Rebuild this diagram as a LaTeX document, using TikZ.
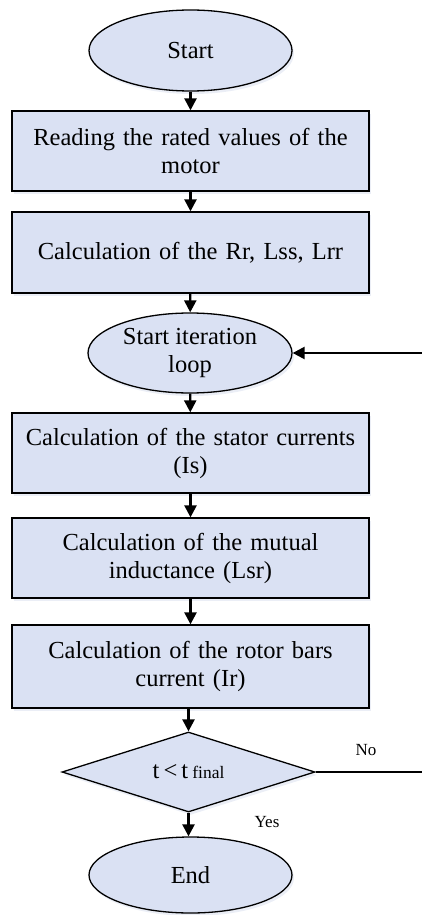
\documentclass[tikz,border=0pt]{standalone}
\usepackage{fontspec}
\setmainfont{Liberation Serif}
\usetikzlibrary{shapes.geometric,arrows.meta,shadows}

\definecolor{boxfill}{HTML}{DAE1F3}
\definecolor{shadowblue}{HTML}{8FA3CF}

\tikzset{
  base/.style={draw=black, line width=1.3pt, fill=boxfill, inner sep=0pt,
    font=\fontsize{24.5}{28}\selectfont, align=center,
    drop shadow={shadow xshift=2pt, shadow yshift=-3pt, opacity=0.18, fill=shadowblue}},
  procbox/.style={base, rectangle, minimum width=357pt, text width=345pt},
  terminal/.style={base, ellipse},
  decision/.style={base, diamond, aspect=3.16, minimum width=253pt, minimum height=80pt},
  flow/.style={line width=2.4pt, -{Triangle[length=12pt,width=12pt]}},
  plainline/.style={line width=2.4pt},
  tag/.style={font=\fontsize{17}{20}\selectfont}
}

\begin{document}
\begin{tikzpicture}[x=1pt,y=-1pt]
  \useasboundingbox (0,0) rectangle (422,915);

  \node[terminal, minimum width=203pt, minimum height=81pt] (start) at (190.5,50.5) {Start};
  \node[procbox, minimum height=80pt] (read) at (190.5,151) {Reading the rated values of the\\motor};
  \node[procbox, minimum height=81pt] (param) at (190.5,252.5) {Calculation of the Rr, Lss, Lrr};
  \node[terminal, minimum width=204pt, minimum height=80pt] (loop) at (190,353) {Start iteration\\loop};
  \node[procbox, minimum height=80pt] (stator) at (190.5,453) {Calculation of the stator currents\\(Is)};
  \node[procbox, minimum height=80pt] (mutual) at (190.5,558) {Calculation of the mutual\\inductance (Lsr)};
  \node[procbox, minimum height=83pt] (rotor) at (190.5,666.5) {Calculation of the rotor bars\\current (Ir)};
  \node[decision] (test) at (188.5,772) {t\,<\,t\,{\fontsize{17.5}{20}\selectfont final}};
  \node[terminal, minimum width=203pt, minimum height=76pt] (stop) at (190.5,875) {End};

  \coordinate (backin) at (422,353);
  \coordinate (noout) at (422,772);

  \draw[flow] (start) -- (read);
  \draw[flow] (read) -- (param);
  \draw[flow] (param) -- (loop);
  \draw[flow] (loop) -- (stator);
  \draw[flow] (stator) -- (mutual);
  \draw[flow] (mutual) -- (rotor);
  \draw[flow] (rotor.south -| test.north) -- (test.north);
  \draw[flow] (test.south) -- (stop.north -| test.south);
  \draw[flow] (backin) -- (loop.east);
  \draw[plainline] (test.east) -- (noout);

  \node[tag] (nolabel) at (366,750) {No};
  \node[tag] (yeslabel) at (267,822) {Yes};
\end{tikzpicture}
\end{document}
